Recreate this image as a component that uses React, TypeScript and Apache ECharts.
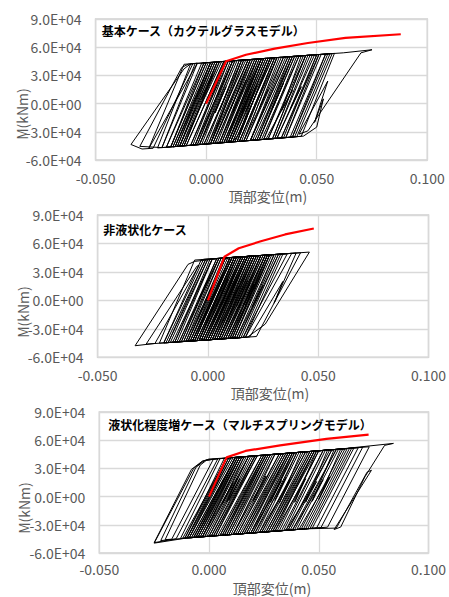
import React, { useEffect, useRef } from "react";
import * as echarts from "echarts";

// ---- axis ticks / texts ----
const xTickMin = -0.05;
const xTickMax = 0.1;
const xTickStep = 0.05;
const yTickMin = -60000;
const yTickMax = 90000;
const yTickStep = 30000;
const panelTitles = [
  "基本ケース（カクテルグラスモデル）",
  "非液状化ケース",
  "液状化程度増ケース（マルチスプリングモデル）",
];
const xAxisTitle = "頂部変位(m)";
const yAxisTitle = "M(kNm)";

// ---- 基本ケース: hysteresis (displacement m, moment kNm) ----
const basicLoop: number[][] = [
  [0, 0],
  [0.0085, 45000], [0.012, 45500], [-0.004, -43800],
  [-0.010, -44900], [0.005, 44300], [0.008, 44900], [-0.009, -44700],
  [-0.012, -45300], [0.004, 44200], [0.006, 44500], [-0.002, 5000], [0.003, 30000], [-0.010, -44900],
  [-0.011, -45100], [0.007, 44700], [0.010, 45200], [-0.005, -44000],
  [-0.013, -45500], [0.002, 43800], [0.004, 44200], [-0.012, -45300],
  [-0.014, -45700], [0.003, 44000], [0.014, 45900], [0.004, -10000], [0.009, 18000], [-0.003, -43500],
  [-0.004, -43800], [0.011, 45400], [0.018, 46600], [0.001, -42800],
  [-0.009, -44700], [0.008, 44900], [0.009, 45000], [-0.007, -44300],
  [-0.016, -46000], [-0.001, 43300], [0.002, 43800], [-0.014, -45700],
  [-0.020, -46800], [-0.005, 42600], [0.000, 43500], [-0.016, -46000],
  [-0.018, -46400], [-0.002, 43200], [0.003, 44000], [-0.013, -45500],
  [-0.015, -45900], [0.002, 43800], [0.016, 46200], [0.002, -42600],
  [-0.002, -43400], [0.013, 45700], [0.020, 46900], [0.011, -6000], [0.016, 22000], [0.004, -42200],
  [0.002, -42600], [0.019, 46700], [0.024, 47600], [0.008, -41500],
  [0.005, -42100], [0.020, 46900], [0.028, 48300], [0.018, -8000], [0.023, 20000], [0.015, -32000], [0.012, -40700],
  [0.008, -41500], [0.025, 47800], [0.026, 47900], [0.011, -40900],
  [0.009, -41300], [0.024, 47600], [0.030, 48600], [0.013, -40500],
  [0.012, -40700], [0.029, 48400], [0.032, 48900], [0.017, -39800],
  [0.009, -41300], [0.023, 47400], [0.027, 48100], [0.011, -40900],
  [0.003, -42400], [0.020, 46900], [0.021, 47100], [0.006, -41900],
  [-0.003, -43600], [0.012, 45500], [0.015, 46100], [0.006, -8000], [0.010, 15000], [-0.001, -43200],
  [-0.007, -44300], [0.010, 45200], [0.012, 45500], [-0.005, -44000],
  [-0.012, -45300], [0.003, 44000], [0.005, 44400], [-0.011, -45100],
  [-0.015, -45900], [0.001, 43700], [0.002, 43800], [-0.014, -45700],
  [-0.022, -47200], [-0.007, 42300], [-0.004, 42800], [-0.020, -46800],
  [-0.030, -45500], [-0.011, 38500], [-0.008, 42000], [-0.006, 42500], [-0.024, -47500],
  [-0.029, -48300], [-0.034, -43500], [-0.010, 37000], [-0.007, 42300], [-0.004, 43000], [-0.026, -47900],
  [-0.010, 41800], [0.000, 43500], [-0.016, -46000],
  [-0.018, -46400], [-0.001, 43300], [0.006, 44500], [-0.010, -44900],
  [-0.012, -45300], [0.005, 44400], [0.017, 46400], [0.002, -42600],
  [0.000, -43000], [0.015, 46100], [0.022, 47200], [0.012, -9000], [0.018, 25000], [0.006, -41900],
  [0.004, -42200], [0.021, 47100], [0.025, 47800], [0.009, -41300],
  [0.007, -41700], [0.022, 47200], [0.029, 48400], [0.014, -40300],
  [0.011, -40900], [0.028, 48300], [0.031, 48800], [0.015, -40200],
  [0.014, -40300], [0.029, 48400], [0.033, 49100], [0.024, -5000], [0.028, 15000], [0.017, -39800],
  [0.013, -40500], [0.030, 48600], [0.036, 49600], [0.020, -39200],
  [0.016, -40000], [0.031, 48800], [0.038, 50000], [0.023, -38600],
  [0.015, -40200], [0.032, 48900], [0.034, 49300], [0.018, -39600],
  [0.010, -41100], [0.025, 47800], [0.028, 48300], [0.012, -40700],
  [0.006, -41900], [0.023, 47400], [0.026, 47900], [0.016, -10000], [0.020, 12000], [0.010, -41100],
  [0.001, -42800], [0.016, 46200], [0.023, 47400], [0.007, -41700],
  [-0.001, -43200], [0.016, 46200], [0.019, 46700], [0.003, -42400],
  [-0.006, -44100], [0.009, 45000], [0.013, 45700], [-0.003, -43600],
  [-0.005, -44000], [0.012, 45500], [0.027, 48100], [0.011, -40900],
  [0.010, -41100], [0.025, 47800], [0.040, 50300], [0.030, -5000], [0.035, 22000], [0.024, -38400],
  [0.018, -39600], [0.035, 49500], [0.044, 51000], [0.028, -37700],
  [0.020, -39200], [0.035, 49500], [0.046, 51300], [0.031, -37100],
  [0.022, -38800], [0.039, 50100], [0.042, 50600], [0.026, -38100],
  [0.017, -39800], [0.032, 48900], [0.039, 50100], [0.023, -38600],
  [0.021, -39000], [0.038, 50000], [0.048, 51700], [0.038, -6000], [0.043, 18000], [0.032, -36900],
  [0.026, -38100], [0.041, 50500], [0.050, 52000], [0.035, -36300],
  [0.028, -37700], [0.045, 51200], [0.052, 52300], [0.036, -36200],
  [0.030, -37300], [0.045, 51200], [0.054, 52700], [0.039, -35600],
  [0.025, -38300], [0.042, 50600], [0.047, 51500], [0.031, -37100],
  [0.020, -39200], [0.037, 49800], [0.043, 50800], [0.034, -8000], [0.039, 14000], [0.027, -37900],
  [0.024, -38400], [0.039, 50100], [0.056, 53000], [0.040, -35400],
  [0.034, -36500], [0.051, 52200], [0.058, 53400], [0.043, -34800],
  [0.036, -36200], [0.051, 52200], [0.057, 53200], [0.041, -35200],
  [0.038, -35800], [0.054, 52700], [0.062, 54000], [0.075, 57300], [0.070, 54000], [0.046, -29000], [0.042, -32500],
  [0.055, 24000], [0.049, -20000], [0.053, 5000], [0.050, -25000], [0.044, -34600],
  [0.032, -36900], [0.049, 51800], [0.055, 52800], [0.039, -35600],
  [0.030, -37300], [0.045, 51200], [0.050, 52000], [0.034, -36500],
  [0.020, -39200], [0.037, 49800], [0.040, 50300], [0.024, -38400],
  [0.014, -40300], [0.029, 48400], [0.031, 48800], [0.015, -40200],
  [0.008, -41500], [0.025, 47800], [0.026, 47900], [0.010, -41100],
  [0.002, -42600], [0.017, 46400], [0.019, 46700], [0.003, -42400],
];
const basicSkeleton: number[][] = [
  [0, 0], [0.009, 45000], [0.018, 52000], [0.031, 58500], [0.046, 64500], [0.063, 70000], [0.088, 73800],
];

// ---- 非液状化ケース ----
const nonLiqLoop: number[][] = [
  [0, 0], [0.0075, 44700], [0.010, 45100], [-0.007, -42700],
  [-0.009, -43000], [0.007, 44600], [0.012, 45400], [-0.005, -42400],
  [-0.007, -42700], [0.011, 45300], [0.015, 45900], [0.006, -5000], [0.011, 20000], [-0.002, -41900],
  [-0.004, -42200], [0.012, 45400], [0.020, 46700], [0.004, -41000],
  [0.000, -41600], [0.018, 46400], [0.022, 47000], [0.005, -40800],
  [0.002, -41300], [0.018, 46400], [0.024, 47300], [0.014, -8000], [0.019, 18000], [0.007, -40500],
  [-0.002, -41900], [0.016, 46100], [0.018, 46400], [0.001, -41400],
  [-0.006, -42600], [0.010, 45100], [0.014, 45700], [-0.003, -42100],
  [-0.010, -43200], [0.008, 44800], [0.009, 44900], [-0.008, -42900],
  [-0.014, -43800], [0.002, 43800], [0.006, 44500], [-0.011, -43400],
  [-0.020, -44800], [-0.003, 43000], [0.000, 43500], [-0.017, -44300],
  [-0.018, -44500], [0.000, 43500], [0.004, 44100], [-0.013, -43700],
  [-0.015, -44000], [0.001, 43700], [0.013, 45600], [0.004, -6000], [0.009, 22000], [-0.004, -42200],
  [-0.005, -42400], [0.013, 45600], [0.021, 46900], [0.005, -40800],
  [0.001, -41400], [0.017, 46200], [0.026, 47700], [0.009, -40200],
  [0.005, -40800], [0.023, 47200], [0.028, 48000], [0.012, -39700],
  [0.008, -40300], [0.024, 47300], [0.030, 48300], [0.020, -7000], [0.025, 16000], [0.013, -39500],
  [0.010, -40000], [0.028, 48000], [0.032, 48600], [0.015, -39200],
  [0.006, -40600], [0.022, 47000], [0.027, 47800], [0.011, -39800],
  [0.003, -41100], [0.021, 46900], [0.025, 47500], [0.008, -40300],
  [-0.001, -41800], [0.015, 45900], [0.019, 46500], [0.010, -4000], [0.014, 15000], [0.002, -41300],
  [-0.003, -42100], [0.015, 45900], [0.017, 46200], [0.000, -41600],
  [-0.008, -42900], [0.008, 44800], [0.011, 45300], [-0.006, -42600],
  [-0.028, -46100], [-0.005, 36000], [-0.004, 37000], [-0.024, -45400],
  [-0.033, -47800], [-0.009, 38000], [-0.006, 41100], [0.008, 44800], [-0.009, -43000],
  [-0.016, -44200], [0.002, 43800], [0.010, 45100], [-0.007, -42700],
  [-0.011, -43400], [0.005, 44300], [0.016, 46100], [-0.001, -41800],
  [-0.002, -41900], [0.016, 46100], [0.023, 47200], [0.013, -6000], [0.018, 21000], [0.006, -40600],
  [0.004, -41000], [0.020, 46700], [0.029, 48100], [0.012, -39700],
  [0.009, -40200], [0.027, 47800], [0.034, 48900], [0.017, -38900],
  [0.012, -39700], [0.028, 48000], [0.038, 49600], [0.017, -38900],
  [0.014, -39400], [0.032, 48600], [0.040, 49900], [0.030, -3000], [0.034, 20000], [0.019, -38500],
  [0.011, -39800], [0.027, 47800], [0.036, 49300], [0.016, -39000],
  [0.007, -40500], [0.025, 47500], [0.031, 48500], [0.014, -39400],
  [0.013, -39500], [0.030, 48300], [0.046, 50900], [0.026, -25000], [0.018, -38700],
  [0.010, -40000], [0.026, 47700], [0.042, 50200], [0.022, -38100],
  [0.008, -40300], [0.026, 47700], [0.033, 48800], [0.016, -39000],
  [0.005, -40800], [0.021, 46900], [0.027, 47800], [0.017, -5000], [0.022, 19000], [0.010, -40000],
  [0.000, -41600], [0.018, 46400], [0.021, 46900], [0.004, -41000],
  [-0.004, -42200], [0.012, 45400], [0.018, 46400], [0.001, -41400],
  [-0.007, -42700], [0.011, 45300], [0.014, 45700], [-0.003, -42100],
  [-0.012, -43500], [0.004, 44100], [0.008, 44800], [-0.009, -43000],
  [-0.019, -44600], [-0.001, 43300], [0.002, 43800], [-0.015, -44000],
  [-0.022, -45100], [-0.006, 42500], [-0.001, 43300], [-0.018, -44500],
  [-0.020, -44800], [-0.002, 43200], [0.005, 44300], [-0.004, 2000], [0.001, 25000], [-0.012, -43500],
  [-0.013, -43700], [0.005, 44300], [0.012, 45400], [-0.005, -42400],
  [-0.006, -42600], [0.010, 45100], [0.019, 46500], [0.002, -41300],
  [0.000, -41600], [0.018, 46400], [0.024, 47300], [0.007, -40500],
  [0.003, -41100], [0.019, 46500], [0.026, 47700], [0.016, -6000], [0.021, 17000], [0.009, -40200],
  [0.006, -40600], [0.024, 47300], [0.028, 48000], [0.011, -39800],
  [0.002, -41300], [0.018, 46400], [0.022, 47000], [0.005, -40800],
  [-0.001, -41800], [0.017, 46200], [0.020, 46700], [0.003, -41100],
  [-0.003, -42100], [0.013, 45600], [0.017, 46200], [0.000, -41600],
  [-0.008, -42900], [0.010, 45100], [0.013, 45600], [-0.004, -42200],
  [-0.010, -43200], [0.006, 44500], [0.011, 45300], [-0.006, -42600],
  [-0.007, -42700], [0.011, 45300], [0.015, 45900], [-0.002, -41900],
  [-0.004, -42200], [0.012, 45400], [0.016, 46100], [-0.001, -41800],
];
const nonLiqSkeleton: number[][] = [
  [0, 0], [0.0075, 46000], [0.014, 55000], [0.024, 62300], [0.035, 69500], [0.048, 75800],
];

// ---- 液状化程度増ケース ----
const liqLoop: number[][] = [
  [0, 0], [0.008, 41000], [0.012, 41700], [-0.007, -43500],
  [-0.009, -43800], [0.009, 41200], [0.014, 42100], [-0.005, -43100],
  [-0.008, -43600], [0.012, 41700], [0.018, 42800], [0.008, -6000], [0.013, 20000], [-0.001, -42400],
  [-0.005, -43100], [0.013, 41900], [0.022, 43600], [0.003, -41700],
  [-0.002, -42600], [0.018, 42800], [0.026, 44300], [0.007, -40900],
  [0.003, -41700], [0.021, 43400], [0.030, 45100], [0.020, -5000], [0.026, 22000], [0.011, -40200],
  [0.006, -41100], [0.026, 44300], [0.034, 45800], [0.015, -39500],
  [0.010, -40400], [0.028, 44700], [0.038, 46500], [0.019, -38800],
  [0.014, -39700], [0.034, 45800], [0.042, 47300], [0.032, -7000], [0.037, 18000], [0.023, -38100],
  [0.008, -40800], [0.026, 44300], [0.036, 46200], [0.017, -39100],
  [0.004, -41500], [0.024, 43900], [0.028, 44700], [0.009, -40600],
  [-0.003, -42700], [0.015, 42300], [0.020, 43200], [0.001, -42000],
  [-0.010, -44000], [0.010, 41400], [0.012, 41700], [-0.007, -43500],
  [-0.013, -44500], [0.005, 40400], [0.009, 41200], [-0.010, -44000],
  [-0.025, -49500], [-0.007, 30000], [-0.003, 37500], [0.000, 40000], [0.010, 41400], [-0.009, -43800],
  [-0.022, -46800], [-0.006, 31000], [-0.002, 38500], [0.004, 40200], [-0.015, -44900],
  [-0.025, -49000], [-0.008, 29000], [-0.003, 37800], [0.002, 39900], [-0.017, -45300],
  [-0.020, -45800], [-0.004, 33500], [-0.001, 39000], [0.008, 41000], [-0.011, -44200],
  [-0.012, -44400], [0.008, 41000], [0.016, 42500], [0.006, -8000], [0.011, 15000], [-0.003, -42700],
  [-0.006, -43300], [0.012, 41700], [0.024, 43900], [0.005, -41300],
  [0.001, -42000], [0.021, 43400], [0.032, 45400], [0.013, -39900],
  [0.009, -40600], [0.027, 44500], [0.040, 46900], [0.030, -4000], [0.035, 20000], [0.021, -38400],
  [0.016, -39300], [0.036, 46200], [0.046, 48000], [0.027, -37300],
  [0.020, -38600], [0.038, 46500], [0.050, 48800], [0.031, -36600],
  [0.024, -37900], [0.044, 47600], [0.054, 49500], [0.044, -6000], [0.049, 16000], [0.035, -35900],
  [0.018, -39000], [0.036, 46200], [0.048, 48400], [0.029, -37000],
  [0.012, -40000], [0.032, 45400], [0.044, 47600], [0.025, -37700],
  [0.022, -38200], [0.040, 46900], [0.056, 49900], [0.037, -35500],
  [0.028, -37200], [0.048, 48400], [0.060, 50600], [0.050, -3000], [0.055, 21000], [0.041, -34800],
  [0.032, -36400], [0.050, 48800], [0.064, 51300], [0.045, -34100],
  [0.026, -37500], [0.046, 48000], [0.058, 50200], [0.039, -35200],
  [0.030, -36800], [0.048, 48400], [0.062, 51000], [0.043, -34500],
  [0.036, -35700], [0.056, 49900], [0.066, 51700], [0.047, -33700],
  [0.034, -36100], [0.052, 49100], [0.068, 52100], [0.049, -33400],
  [0.038, -35400], [0.058, 50200], [0.070, 52500], [0.051, -33000],
  [0.040, -35000], [0.059, 50400], [0.084, 56600], [0.080, 54500], [0.071, 21000], [0.060, -32400], [0.057, -35000],
  [0.074, 28000], [0.072, 26000], [0.058, -33500], [0.044, -34300],
  [0.063, 51200], [0.073, 53000], [0.054, -32500],
  [0.035, -35900], [0.053, 49300], [0.065, 51500], [0.046, -33900],
  [0.027, -37300], [0.047, 48200], [0.057, 50000], [0.047, -5000], [0.052, 18000], [0.038, -35400],
  [0.021, -38400], [0.039, 46700], [0.052, 49100], [0.033, -36300],
  [0.015, -39500], [0.035, 46000], [0.045, 47800], [0.026, -37500],
  [0.007, -40900], [0.025, 44100], [0.038, 46500], [0.028, -6000], [0.033, 17000], [0.019, -38800],
  [0.002, -41800], [0.022, 43600], [0.030, 45100], [0.011, -40200],
  [-0.004, -42900], [0.014, 42100], [0.021, 43400], [0.002, -41800],
  [-0.009, -43800], [0.011, 41500], [0.017, 42600], [-0.002, -42600],
  [-0.011, -44200], [0.007, 40800], [0.013, 41900], [-0.006, -43300],
  [-0.007, -43500], [0.013, 41900], [0.019, 43000], [0.009, -4000], [0.014, 19000], [0.000, -42200],
  [-0.003, -42700], [0.015, 42300], [0.027, 44500], [0.008, -40800],
  [0.005, -41300], [0.025, 44100], [0.035, 46000], [0.016, -39300],
  [0.011, -40200], [0.029, 44900], [0.043, 47500], [0.024, -37900],
  [0.017, -39100], [0.037, 46300], [0.049, 48600], [0.039, -6000], [0.044, 19000], [0.030, -36800],
  [0.023, -38100], [0.041, 47100], [0.055, 49700], [0.036, -35700],
  [0.029, -37000], [0.049, 48600], [0.061, 50800], [0.042, -34600],
  [0.019, -38800], [0.037, 46300], [0.047, 48200], [0.028, -37200],
  [0.013, -39900], [0.033, 45600], [0.039, 46700], [0.020, -38600],
  [0.000, -42200], [0.018, 42800], [0.025, 44100], [0.006, -41100],
  [-0.008, -43600], [0.012, 41700], [0.015, 42300], [-0.004, -42900],
  [-0.010, -44000], [0.008, 41000], [0.014, 42100], [-0.005, -43100],
  [-0.006, -43300], [0.014, 42100], [0.016, 42500], [-0.003, -42700],
];
const liqSkeleton: number[][] = [
  [0, 0], [0.008, 41700], [0.0166, 48600], [0.0324, 54500], [0.0535, 61400], [0.0727, 65900],
];

// ---- layout (pixels) ----
const FONT = '"Noto Sans CJK JP", "Noto Sans", sans-serif';
const gridBoxes = [
  { left: 95.6, top: 19, width: 331.7, height: 141 },
  { left: 97.6, top: 215, width: 332, height: 142.3 },
  { left: 99.3, top: 412, width: 332, height: 141 },
];
const xLabelMargins = [11, 11, 9];
const titlePos = [
  { x: 101.7, y: 30.5 },
  { x: 103.3, y: 229.5 },
  { x: 108.3, y: 424 },
];
const xTitlePos = [
  { x: 268, y: 195.5 },
  { x: 270, y: 392.7 },
  { x: 272, y: 587.5 },
];
const yTitlePos = [
  { x: 22, y: 114 },
  { x: 22.5, y: 312 },
  { x: 24, y: 508 },
];

const loops = [basicLoop, nonLiqLoop, liqLoop];
const skeletons = [basicSkeleton, nonLiqSkeleton, liqSkeleton];

function sci(v: number): string {
  if (v === 0) return "0.0E+00";
  const e = Math.floor(Math.log10(Math.abs(v)) + 1e-9);
  const m = v / Math.pow(10, e);
  return `${m.toFixed(1)}E${e < 0 ? "-" : "+"}${String(Math.abs(e)).padStart(2, "0")}`;
}

function textEl(text: string, x: number, y: number, size: number, bold: boolean, color: string, align: string, rotation = 0) {
  return {
    type: "text",
    x,
    y,
    rotation,
    silent: true,
    z: 10,
    style: {
      text,
      fill: color,
      fontSize: size,
      fontWeight: bold ? "bold" : "normal",
      fontFamily: FONT,
      align,
      verticalAlign: "middle",
      textAlign: align,
      textVerticalAlign: "middle",
    },
  };
}

export default function App() {
  const ref = useRef<HTMLDivElement>(null);

  useEffect(() => {
    if (!ref.current) return;
    const chart = echarts.init(ref.current, undefined, { renderer: "svg" });

    const series: any[] = [];
    loops.forEach((loop, i) => {
      series.push({
        type: "line",
        xAxisIndex: i,
        yAxisIndex: i,
        data: loop,
        showSymbol: false,
        symbol: "none",
        silent: true,
        clip: true,
        z: 2,
        lineStyle: { color: "#000000", width: 1.0 },
      });
    });
    skeletons.forEach((sk, i) => {
      series.push({
        type: "line",
        xAxisIndex: i,
        yAxisIndex: i,
        data: sk,
        showSymbol: false,
        symbol: "none",
        silent: true,
        clip: true,
        z: 3,
        lineStyle: { color: "#ff0000", width: 2.2 },
      });
    });

    const graphic: any[] = [];
    panelTitles.forEach((t, i) => {
      graphic.push(textEl(t, titlePos[i].x, titlePos[i].y, 12, true, "#000000", "left"));
      graphic.push(textEl(xAxisTitle, xTitlePos[i].x, xTitlePos[i].y, 14, false, "#595959", "center"));
      graphic.push(textEl(yAxisTitle, yTitlePos[i].x, yTitlePos[i].y, 14, false, "#595959", "center", Math.PI / 2));
    });

    const option: any = {
      animation: false,
      backgroundColor: "#ffffff",
      textStyle: { fontFamily: FONT },
      grid: gridBoxes.map((g) => ({
        ...g,
        show: true,
        borderColor: "#d0d0d0",
        borderWidth: 1.5,
        backgroundColor: "transparent",
        containLabel: false,
      })),
      xAxis: gridBoxes.map((_, i) => ({
        type: "value",
        gridIndex: i,
        min: xTickMin,
        max: xTickMax,
        interval: xTickStep,
        axisLine: { show: false },
        axisTick: { show: false },
        splitLine: { show: true, lineStyle: { color: "#d9d9d9", width: 1.3 } },
        axisLabel: {
          formatter: (v: number) => v.toFixed(3),
          color: "#595959",
          fontSize: 14,
          margin: xLabelMargins[i],
          fontFamily: FONT,
        },
      })),
      yAxis: gridBoxes.map((_, i) => ({
        type: "value",
        gridIndex: i,
        min: yTickMin,
        max: yTickMax,
        interval: yTickStep,
        axisLine: { show: false },
        axisTick: { show: false },
        splitLine: { show: true, lineStyle: { color: "#d9d9d9", width: 1.3 } },
        axisLabel: {
          formatter: (v: number) => sci(v),
          color: "#595959",
          fontSize: 14,
          margin: 14,
          fontFamily: FONT,
        },
      })),
      series,
      graphic,
    };

    chart.setOption(option);
    return () => {
      chart.dispose();
    };
  }, []);

  return (
    <div
      ref={ref}
      style={{ position: "fixed", left: 0, top: 0, width: 449, height: 597, background: "#ffffff" }}
    />
  );
}
